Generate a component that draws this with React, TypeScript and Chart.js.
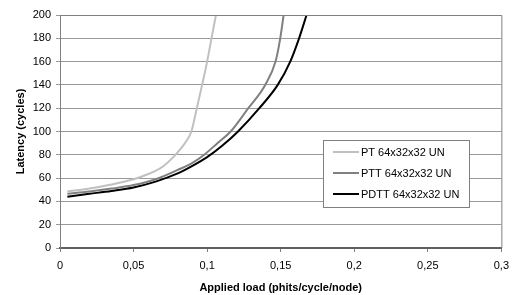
import React, { useEffect, useRef } from "react";
import { Chart, registerables } from "chart.js";

Chart.register(...registerables);

const seriesNames = ["PT 64x32x32 UN", "PTT 64x32x32 UN", "PDTT 64x32x32 UN"];
const seriesColors = ["#c0c0c0", "#808080", "#000000"];

const ptLoad = [0.005, 0.02, 0.035, 0.05, 0.06, 0.07, 0.077, 0.082, 0.086, 0.0893, 0.093, 0.0966, 0.1, 0.103, 0.106];
const ptLatency = [48.5, 51, 54.5, 59, 63.5, 70, 78, 85, 92, 100, 120, 140, 160, 180, 200];

const pttLoad = [0.005, 0.02, 0.035, 0.05, 0.065, 0.08, 0.09, 0.098, 0.107, 0.116, 0.128, 0.1395, 0.1465, 0.1497, 0.152];
const pttLatency = [46.5, 48.5, 51, 54, 59, 67, 73, 80, 90, 100, 120, 140, 160, 180, 200];

const pdttLoad = [0.005, 0.02, 0.035, 0.05, 0.065, 0.08, 0.09, 0.1, 0.11, 0.121, 0.1355, 0.148, 0.1565, 0.1625, 0.1676];
const pdttLatency = [44, 46.5, 49, 52, 57, 64, 70.5, 78, 87.5, 100, 120, 140, 160, 180, 200];

const xTickLabels = ["0", "0,05", "0,1", "0,15", "0,2", "0,25", "0,3"];
const yTickLabels = ["0", "20", "40", "60", "80", "100", "120", "140", "160", "180", "200"];

const FONT = "'Liberation Sans', Arial, sans-serif";

const toPoints = (xs: number[], ys: number[]) => xs.map((x, i) => ({ x, y: ys[i] }));

const frameAndLegend = {
  id: "frameAndLegend",
  afterDraw(chart: any) {
    const { ctx, chartArea } = chart;
    ctx.save();
    ctx.strokeStyle = "#808080";
    ctx.lineWidth = 1;
    ctx.beginPath();
    ctx.moveTo(chartArea.left, chartArea.top + 0.5);
    ctx.lineTo(chartArea.right + 0.5, chartArea.top + 0.5);
    ctx.lineTo(chartArea.right + 0.5, chartArea.bottom);
    ctx.stroke();

    const bx = 323, by = 140, bw = 146, bh = 67;
    ctx.fillStyle = "#ffffff";
    ctx.fillRect(bx, by, bw, bh);
    ctx.strokeStyle = "#808080";
    ctx.strokeRect(bx + 0.5, by + 0.5, bw, bh);
    ctx.font = `11px ${FONT}`;
    ctx.textBaseline = "middle";
    ctx.textAlign = "left";
    seriesNames.forEach((name, i) => {
      const cy = 152 + i * 21;
      ctx.strokeStyle = seriesColors[i];
      ctx.lineWidth = 2;
      ctx.beginPath();
      ctx.moveTo(333, cy);
      ctx.lineTo(359, cy);
      ctx.stroke();
      ctx.fillStyle = "#000000";
      ctx.fillText(name, 361, cy + 0.5);
    });
    ctx.restore();
  },
};

export default function App() {
  const ref = useRef<HTMLCanvasElement | null>(null);
  useEffect(() => {
    if (!ref.current) return;
    const data = [toPoints(ptLoad, ptLatency), toPoints(pttLoad, pttLatency), toPoints(pdttLoad, pdttLatency)];
    const chart = new Chart(ref.current, {
      type: "line",
      data: {
        datasets: seriesNames.map((name, i) => ({
          label: name,
          data: data[i],
          borderColor: seriesColors[i],
          borderWidth: 2,
          pointRadius: 0,
          fill: false,
          cubicInterpolationMode: "monotone" as const,
        })),
      },
      options: {
        animation: false,
        responsive: false,
        devicePixelRatio: 1,
        layout: { padding: { left: 0, right: 11, top: 15, bottom: 0 } },
        plugins: { legend: { display: false }, tooltip: { enabled: false } },
        scales: {
          x: {
            type: "linear",
            min: 0,
            max: 0.3,
            afterFit: (s: any) => { s.height = 47; },
            afterBuildTicks: (s: any) => {
              s.ticks = xTickLabels.map((_, i) => ({ value: i * 0.05 }));
            },
            ticks: {
              color: "#000",
              font: { family: FONT, size: 11 },
              padding: 7,
              maxRotation: 0,
              autoSkip: false,
              callback: (_v: any, i: number) => xTickLabels[i],
            },
            grid: { drawOnChartArea: false, drawTicks: true, tickLength: 4, color: "#808080" },
            border: { color: "#606060", width: 2 },
            title: {
              display: true,
              text: "Applied load (phits/cycle/node)",
              color: "#000",
              font: { family: FONT, size: 11, weight: "bold" },
              padding: { top: 2, bottom: 0 },
            },
          },
          y: {
            type: "linear",
            min: 0,
            max: 200,
            afterFit: (s: any) => { s.width = 60; },
            afterBuildTicks: (s: any) => {
              s.ticks = yTickLabels.map((_, i) => ({ value: i * 20 }));
            },
            ticks: {
              color: "#000",
              font: { family: FONT, size: 11 },
              padding: 5,
              autoSkip: false,
              callback: (_v: any, i: number) => yTickLabels[i],
            },
            grid: { color: "#999999", lineWidth: 1, tickLength: 4 },
            border: { color: "#808080", width: 1 },
            title: {
              display: true,
              text: "Latency (cycles)",
              color: "#000",
              font: { family: FONT, size: 11, weight: "bold" },
              padding: { top: 14, bottom: 0 },
            },
          },
        },
      },
      plugins: [frameAndLegend],
    });
    return () => chart.destroy();
  }, []);
  return (
    <div style={{ position: "fixed", left: 0, top: 0, width: 516, height: 295, background: "#fff" }}>
      <canvas ref={ref} width={516} height={295} />
    </div>
  );
}
